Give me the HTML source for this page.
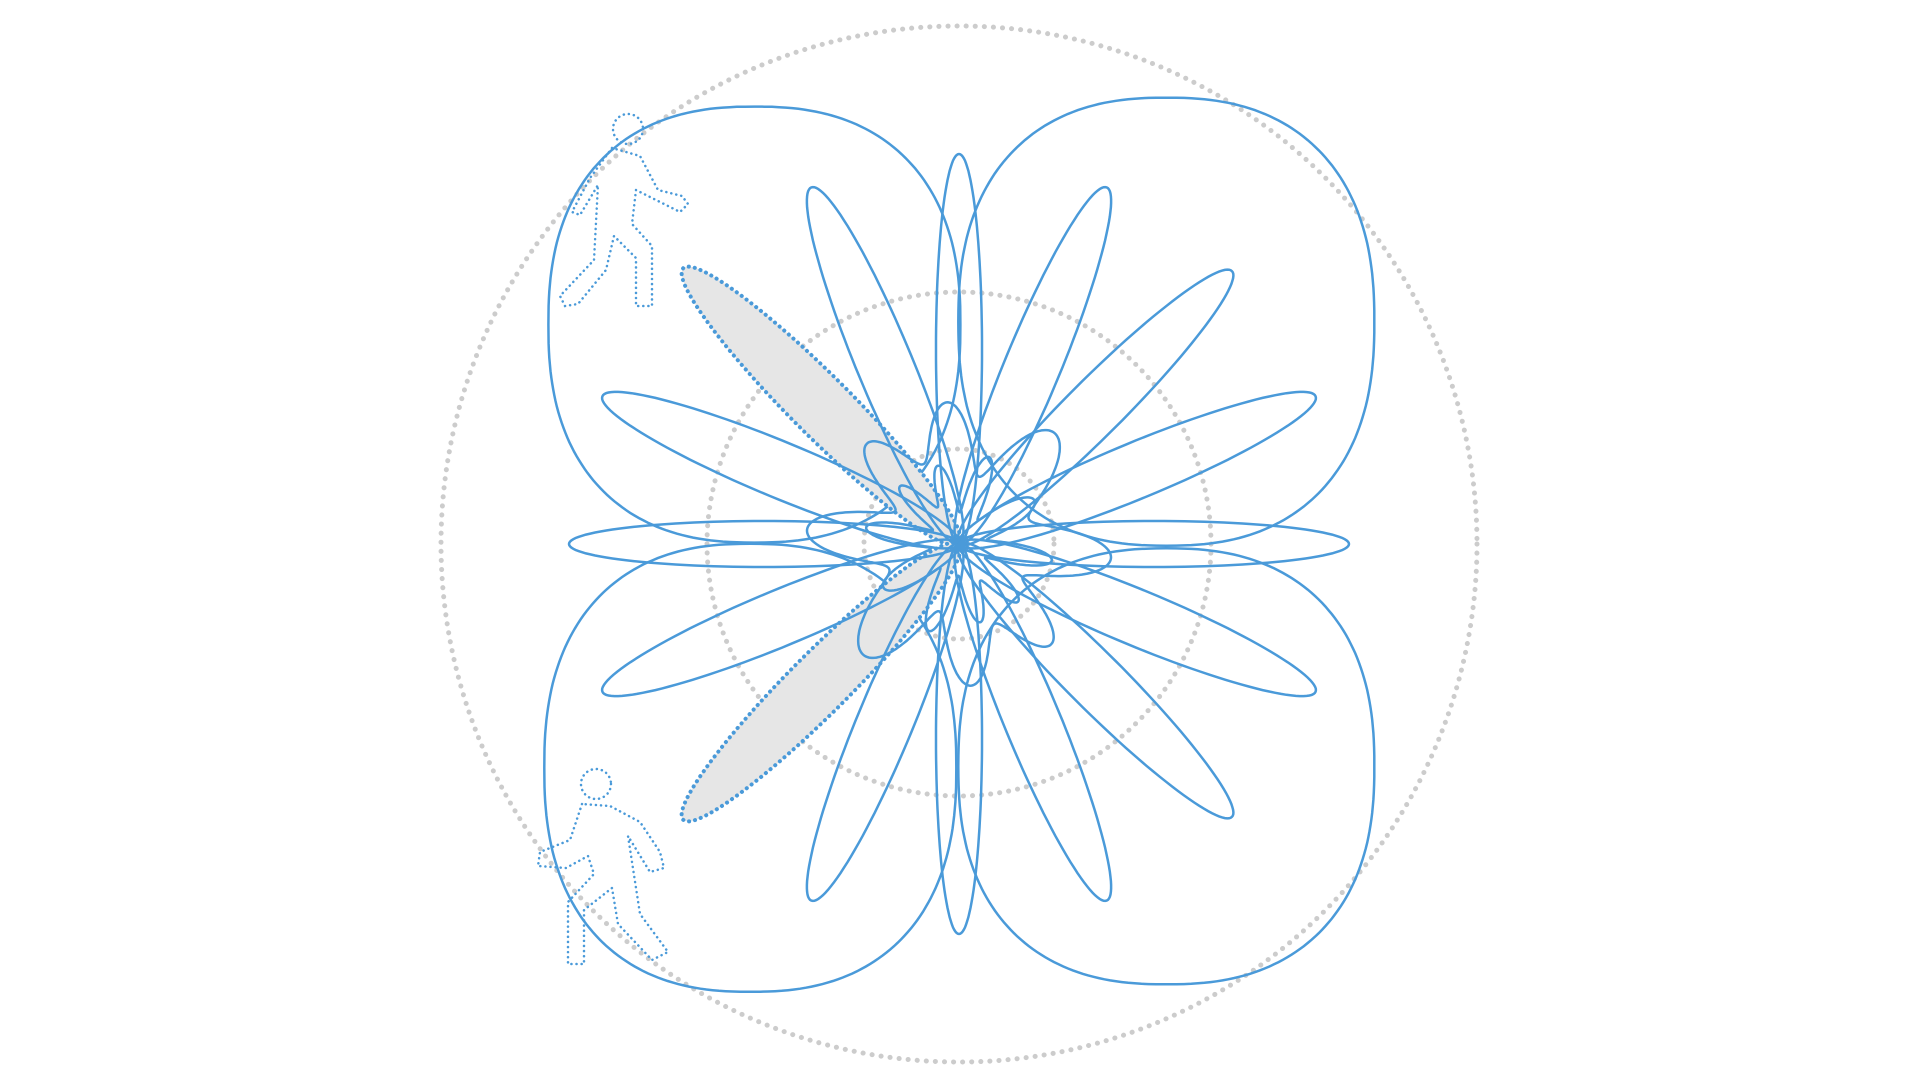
<!DOCTYPE html>
<html><head><meta charset="utf-8"><style>
html,body{margin:0;padding:0;background:#fff;}
svg{display:block;}
</style></head><body>
<svg id="chart" width="1920" height="1080" viewBox="0 0 1920 1080" xmlns="http://www.w3.org/2000/svg">
<g id="grid"></g>
<g id="lobes"></g>
<g id="highlight"></g>
<g id="petals"></g>
<g id="inner"></g>
<g id="figures">
  <g fill="none" stroke="#4a9ad9" stroke-width="2.5" stroke-dasharray="0.1 5" stroke-linecap="round">
    <circle cx="628" cy="129" r="15"/>
    <path d="M612 148 L590 178 L572 212 L580 215 L598 185 L594 260 L560 296 L565 306 L578 304 L606 270 L614 236 L636 258 L636 306 L652 306 L652 246 L632 224 L636 190 L680 212 L688 204 L682 196 L658 190 L640 156 Z"/>
  </g>
  <g fill="none" stroke="#4a9ad9" stroke-width="2.5" stroke-dasharray="0.1 5" stroke-linecap="round">
    <circle cx="596" cy="784" r="15"/>
    <path d="M582 804 L570 840 L540 852 L538 866 L566 868 L588 856 L594 874 L568 902 L568 964 L584 964 L584 910 L612 888 L618 924 L652 960 L668 952 L640 914 L628 836 L650 872 L664 868 L660 852 L640 822 L610 806 Z"/>
  </g>
</g>
</svg>
<script>
// ---- data ----
var gridRadii = [95, 252, 518];
var lobeAngles = [47, 133, 227, 313];
var lobeDist = [304, 300, 306, 304];
var lobeHalfW = [208, 206, 206, 208];
var lobeHalfH = [224, 218, 224, 218];
var petalAngles = [0, 22.5, 45, 67.5, 90, 112.5, 157.5, 180, 202.5, 247.5, 270, 292.5, 315, 337.5];
var petalLengths = [390, 386, 386, 386, 390, 386, 386, 390, 386, 386, 390, 386, 386, 386];
var highlightAngles = [135, 225];
var highlightLengths = [390, 390];
var innerHarmonics = [8, 6, 10];
var innerAmps = [28, 18, 12];
// ---- axes ----
var cx = 959, cy = 544;
var NS = "http://www.w3.org/2000/svg";
function px(r, deg){ var a = deg*Math.PI/180; return cx + r*Math.cos(a); }
function py(r, deg){ var a = deg*Math.PI/180; return cy - r*Math.sin(a); }
function mk(tag, parent){ var e = document.createElementNS(NS, tag); document.getElementById(parent).appendChild(e); return e; }
var blue = "#4a9ad9";
gridRadii.forEach(function(r){
  var c = mk("circle","grid");
  
  
  c.setAttribute("cx",cx); c.setAttribute("cy",cy); c.setAttribute("r",r);
  c.setAttribute("fill","none"); c.setAttribute("stroke","#cccccc"); c.setAttribute("stroke-width","5");
  c.setAttribute("stroke-dasharray","0.1 9"); c.setAttribute("stroke-linecap","round");
});
lobeAngles.forEach(function(a0, i){
  var ox = px(lobeDist[i], a0), oy = py(lobeDist[i], a0);
  var d = "", n = 2.4;
  for (var k=0; k<=240; k++){
    var t = k/240*2*Math.PI, c = Math.cos(t), s = Math.sin(t);
    var x = ox + lobeHalfW[i]*Math.sign(c)*Math.pow(Math.abs(c), 2/n);
    var y = oy + lobeHalfH[i]*Math.sign(s)*Math.pow(Math.abs(s), 2/n);
    d += (k?"L":"M") + x.toFixed(1) + " " + y.toFixed(1);
  }
  var p = mk("path","lobes");
  
  
  p.setAttribute("d", d+"Z"); p.setAttribute("fill","none"); p.setAttribute("stroke",blue); p.setAttribute("stroke-width","2.5");
});
function petalPath(a0, L, W){
  var d = "";
  for (var k=0; k<=120; k++){
    var t = k/120*2*Math.PI;
    var lx = L/2*(1-Math.cos(t)), ly = W*Math.sin(t);
    var r = Math.sqrt(lx*lx+ly*ly), ang = a0 + Math.atan2(ly, lx)*180/Math.PI;
    d += (k?"L":"M") + px(r, ang).toFixed(1) + " " + py(r, ang).toFixed(1);
  }
  return d + "Z";
}
highlightAngles.forEach(function(a, i){
  var p = mk("path","highlight");
  
  
  p.setAttribute("d", petalPath(a, highlightLengths[i], 30));
  p.setAttribute("fill","#e6e6e6"); p.setAttribute("stroke",blue); p.setAttribute("stroke-width","4");
  p.setAttribute("stroke-dasharray","0.1 6"); p.setAttribute("stroke-linecap","round");
});
petalAngles.forEach(function(a, i){
  var w = (a % 90 === 0) ? 23 : 28;
  var p = mk("path","petals");
  
  
  p.setAttribute("d", petalPath(a, petalLengths[i], w));
  p.setAttribute("fill","none"); p.setAttribute("stroke",blue); p.setAttribute("stroke-width","2.5");
});
[0, 1].forEach(function(j){
  var d = "";
  for (var k=0; k<=720; k++){
    var th = k*0.5;
    var r = (j ? 60 : 110);
    for (var h=0; h<innerHarmonics.length; h++) r += innerAmps[h]*(j?0.8:1)*Math.cos((innerHarmonics[h]+j*2)*th*Math.PI/180 + h + j);
    d += (k?"L":"M") + px(r, th).toFixed(1) + " " + py(r, th).toFixed(1);
  }
  var p = mk("path","inner");
  
  
  p.setAttribute("d", d+"Z"); p.setAttribute("fill","none"); p.setAttribute("stroke",blue); p.setAttribute("stroke-width","2.5");
});
</script>
</body></html>
